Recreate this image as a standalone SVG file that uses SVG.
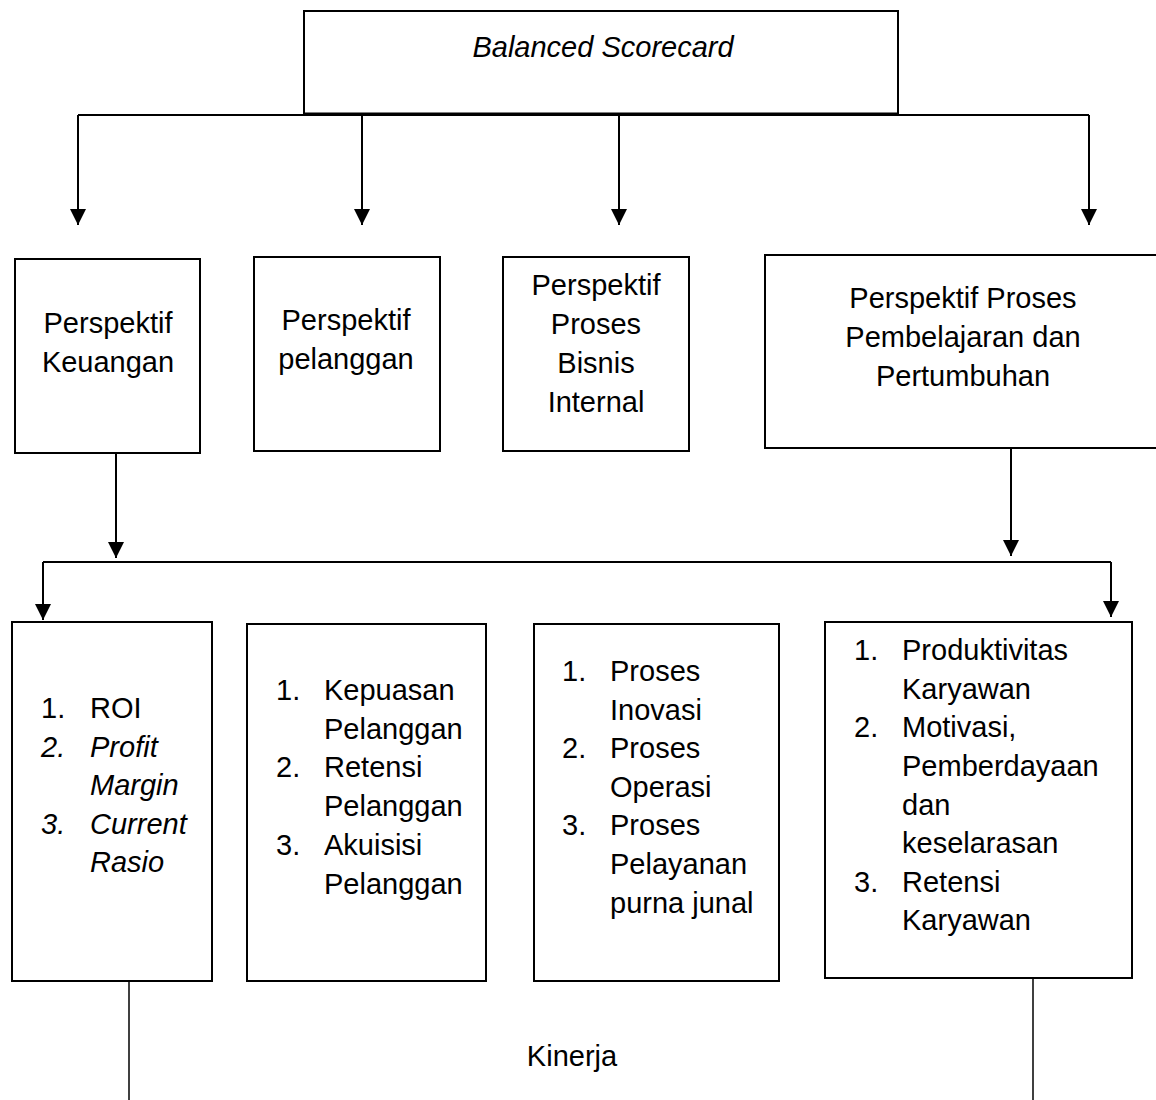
<svg xmlns="http://www.w3.org/2000/svg" width="1156" height="1100" viewBox="0 0 1156 1100">
<defs>
<style>
.box{fill:#fff;stroke:#000;stroke-width:2}
.ln{fill:none;stroke:#000;stroke-width:2}
.t{font-family:"Liberation Sans",Arial,sans-serif;font-size:29px;fill:#000}
.c{text-anchor:middle}
.i{font-style:italic}
</style>
<marker id="ah" markerUnits="userSpaceOnUse" markerWidth="16" markerHeight="16" refX="16" refY="8" orient="auto" viewBox="0 0 16 16">
<path d="M0,0 L16,8 L0,16 z" fill="#000"/>
</marker>
</defs>
<rect width="1156" height="1100" fill="#fff"/>

<g id="connectors">
<path class="ln" d="M78,115 H1089"/>
<path class="ln" d="M78,115 V225" marker-end="url(#ah)"/>
<path class="ln" d="M362,115 V225" marker-end="url(#ah)"/>
<path class="ln" d="M619,115 V225" marker-end="url(#ah)"/>
<path class="ln" d="M1089,115 V225" marker-end="url(#ah)"/>
<path class="ln" d="M116,453 V558" marker-end="url(#ah)"/>
<path class="ln" d="M1011,448 V556" marker-end="url(#ah)"/>
<path class="ln" d="M43,562 H1111"/>
<path class="ln" d="M43,562 V620" marker-end="url(#ah)"/>
<path class="ln" d="M1111,562 V617" marker-end="url(#ah)"/>
<path class="ln" d="M129,981 V1100" style="stroke-width:1.5"/>
<path class="ln" d="M1033,978 V1100" style="stroke-width:1.5"/>
</g>

<g id="balanced-scorecard">
<rect class="box" x="304" y="11" width="594" height="103"/>
<line x1="304" y1="114" x2="898" y2="114" stroke="#000" stroke-width="3"/>
<text class="t c i" x="603" y="57">Balanced Scorecard</text>
</g>

<g id="perspektif-keuangan">
<rect class="box" x="15" y="259" width="185" height="194"/>
<text class="t c" x="108" y="333">Perspektif</text>
<text class="t c" x="108" y="372">Keuangan</text>
</g>

<g id="perspektif-pelanggan">
<rect class="box" x="254" y="257" width="186" height="194"/>
<text class="t c" x="346" y="330">Perspektif</text>
<text class="t c" x="346" y="369">pelanggan</text>
</g>

<g id="perspektif-bisnis-internal">
<rect class="box" x="503" y="257" width="186" height="194"/>
<text class="t c" x="596" y="295">Perspektif</text>
<text class="t c" x="596" y="334">Proses</text>
<text class="t c" x="596" y="373">Bisnis</text>
<text class="t c" x="596" y="412">Internal</text>
</g>

<g id="perspektif-pembelajaran">
<rect class="box" x="765" y="255" width="395" height="193"/>
<text class="t c" x="963" y="308">Perspektif Proses</text>
<text class="t c" x="963" y="347">Pembelajaran dan</text>
<text class="t c" x="963" y="386">Pertumbuhan</text>
</g>

<g id="list-keuangan">
<rect class="box" x="12" y="622" width="200" height="359"/>
<text class="t" x="41" y="718">1.</text><text class="t" x="90" y="718">ROI</text>
<text class="t i" x="41" y="757">2.</text><text class="t i" x="90" y="757">Profit</text>
<text class="t i" x="90" y="795">Margin</text>
<text class="t i" x="41" y="834">3.</text><text class="t i" x="90" y="834">Current</text>
<text class="t i" x="90" y="872">Rasio</text>
</g>

<g id="list-pelanggan">
<rect class="box" x="247" y="624" width="239" height="357"/>
<text class="t" x="276" y="700">1.</text><text class="t" x="324" y="700">Kepuasan</text>
<text class="t" x="324" y="739">Pelanggan</text>
<text class="t" x="276" y="777">2.</text><text class="t" x="324" y="777">Retensi</text>
<text class="t" x="324" y="816">Pelanggan</text>
<text class="t" x="276" y="855">3.</text><text class="t" x="324" y="855">Akuisisi</text>
<text class="t" x="324" y="894">Pelanggan</text>
</g>

<g id="list-bisnis">
<rect class="box" x="534" y="624" width="245" height="357"/>
<text class="t" x="562" y="681">1.</text><text class="t" x="610" y="681">Proses</text>
<text class="t" x="610" y="720">Inovasi</text>
<text class="t" x="562" y="758">2.</text><text class="t" x="610" y="758">Proses</text>
<text class="t" x="610" y="797">Operasi</text>
<text class="t" x="562" y="835">3.</text><text class="t" x="610" y="835">Proses</text>
<text class="t" x="610" y="874">Pelayanan</text>
<text class="t" x="610" y="913">purna junal</text>
</g>

<g id="list-pembelajaran">
<rect class="box" x="825" y="622" width="307" height="356"/>
<text class="t" x="854" y="660">1.</text><text class="t" x="902" y="660">Produktivitas</text>
<text class="t" x="902" y="699">Karyawan</text>
<text class="t" x="854" y="737">2.</text><text class="t" x="902" y="737">Motivasi,</text>
<text class="t" x="902" y="776">Pemberdayaan</text>
<text class="t" x="902" y="815">dan</text>
<text class="t" x="902" y="853">keselarasan</text>
<text class="t" x="854" y="892">3.</text><text class="t" x="902" y="892">Retensi</text>
<text class="t" x="902" y="930">Karyawan</text>
</g>

<g id="kinerja">
<text class="t c" x="572" y="1066">Kinerja</text>
</g>
</svg>
